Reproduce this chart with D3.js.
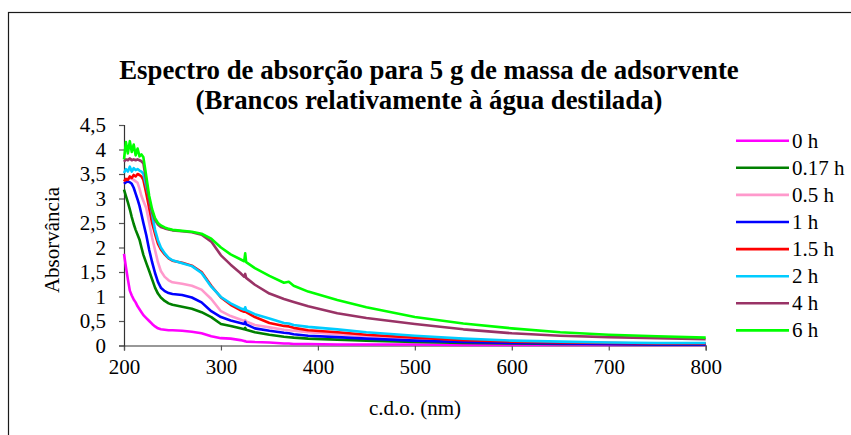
<!DOCTYPE html>
<html>
<head>
<meta charset="utf-8">
<script src="https://cdn.jsdelivr.net/npm/d3@7"></script>
<style>
  body { margin: 0; background: #fff; }
</style>
</head>
<body>
<svg id="chart" width="851" height="435"></svg>
<script>
// wavelengths (nm), shared by every series
const wavelengths = [200,202,204,206,208,210,212,214,216,218,220,223,226,229,232,235,238,242,246,250,260,270,280,290,300,310,320,324,325,326,335,350,365,370,375,390,420,450,500,550,600,650,700,750,800];

const abs0h   = [1.87,1.60,1.35,1.12,1.02,0.94,0.88,0.80,0.74,0.68,0.62,0.56,0.50,0.44,0.39,0.35,0.33,0.32,0.31,0.31,0.30,0.28,0.25,0.19,0.15,0.14,0.11,0.09,0.09,0.08,0.07,0.06,0.04,0.04,0.03,0.03,0.02,0.02,0.02,0.01,0.01,0.01,0.01,0.01,0.01];
const abs017h = [3.18,3.05,2.92,2.78,2.62,2.48,2.36,2.26,2.16,2.00,1.85,1.68,1.52,1.35,1.18,1.06,0.98,0.91,0.86,0.83,0.79,0.75,0.68,0.58,0.44,0.40,0.35,0.33,0.36,0.32,0.27,0.22,0.18,0.17,0.16,0.14,0.12,0.10,0.07,0.05,0.04,0.03,0.03,0.02,0.02];
const abs05h  = [3.30,3.35,3.40,3.42,3.40,3.38,3.35,3.32,3.20,3.05,2.95,2.80,2.50,2.20,1.95,1.70,1.52,1.40,1.33,1.29,1.26,1.22,1.14,0.95,0.70,0.60,0.53,0.50,0.52,0.49,0.42,0.37,0.32,0.31,0.30,0.27,0.23,0.19,0.14,0.10,0.08,0.06,0.05,0.04,0.04];
const abs1h   = [3.30,3.33,3.35,3.33,3.30,3.22,3.10,2.98,2.85,2.68,2.50,2.25,1.95,1.70,1.48,1.30,1.18,1.11,1.07,1.05,1.03,0.98,0.88,0.70,0.58,0.51,0.46,0.44,0.48,0.43,0.35,0.30,0.26,0.25,0.23,0.20,0.17,0.14,0.10,0.07,0.05,0.04,0.03,0.02,0.02];
const abs15h  = [3.35,3.40,3.38,3.45,3.42,3.48,3.45,3.50,3.48,3.45,3.38,3.10,2.80,2.50,2.28,2.08,1.96,1.86,1.78,1.73,1.69,1.63,1.50,1.22,0.98,0.83,0.72,0.69,0.72,0.68,0.58,0.46,0.40,0.39,0.36,0.31,0.27,0.22,0.16,0.11,0.08,0.06,0.05,0.04,0.04];
const abs2h   = [3.52,3.60,3.55,3.65,3.55,3.62,3.58,3.60,3.57,3.55,3.50,3.25,3.00,2.68,2.36,2.15,2.00,1.88,1.79,1.74,1.68,1.62,1.48,1.20,0.99,0.86,0.76,0.73,0.78,0.72,0.64,0.55,0.46,0.45,0.42,0.38,0.33,0.27,0.20,0.14,0.10,0.08,0.06,0.05,0.05];
const abs4h   = [3.75,3.80,3.78,3.82,3.78,3.80,3.78,3.80,3.78,3.76,3.72,3.35,2.95,2.72,2.56,2.47,2.42,2.39,2.37,2.35,2.33,2.31,2.26,2.12,1.84,1.65,1.48,1.40,1.46,1.38,1.24,1.06,0.95,0.92,0.89,0.80,0.66,0.56,0.44,0.33,0.25,0.20,0.17,0.15,0.13];
const abs6h   = [3.80,4.15,3.92,4.17,3.95,4.10,3.88,4.02,3.86,3.90,3.84,3.45,3.05,2.78,2.60,2.50,2.45,2.41,2.38,2.36,2.34,2.32,2.28,2.18,2.00,1.86,1.76,1.72,1.88,1.70,1.58,1.42,1.28,1.30,1.22,1.10,0.93,0.78,0.58,0.45,0.35,0.27,0.22,0.19,0.16];

const seriesNames  = ["0 h", "0.17 h", "0.5 h", "1 h", "1.5 h", "2 h", "4 h", "6 h"];
const seriesValues = [abs0h, abs017h, abs05h, abs1h, abs15h, abs2h, abs4h, abs6h];
const seriesColors = ["#FF00FF", "#008000", "#FF99CC", "#0000FF", "#FF0000", "#00CCFF", "#993366", "#00FF00"];

const xTicks = [200, 300, 400, 500, 600, 700, 800];
const yTicks = [0, 0.5, 1, 1.5, 2, 2.5, 3, 3.5, 4, 4.5];

const serif = "'Liberation Serif'";

const svg = d3.select("#chart");

// outer chart border (right/bottom edges fall outside the picture)
svg.append("rect")
  .attr("x", 8.5).attr("y", 12.5)
  .attr("width", 900).attr("height", 500)
  .attr("fill", "none")
  .attr("stroke", "#1a1a1a")
  .attr("stroke-width", 1.2);

const x = d3.scaleLinear().domain([200, 800]).range([124, 705.7]);
const y = d3.scaleLinear().domain([0, 4.5]).range([345.5, 125]);

// title
const title = svg.append("text")
  .attr("text-anchor", "middle")
  .attr("font-family", serif)
  .attr("font-weight", "bold")
  .attr("font-size", 26.8);
title.append("tspan").attr("x", 429).attr("y", 79)
  .text("Espectro de absorção para 5 g de massa de adsorvente");
title.append("tspan").attr("x", 429).attr("y", 109)
  .text("(Brancos relativamente à água destilada)");

// axes
const xAxis = svg.append("g")
  .attr("transform", `translate(0,${y(0)})`)
  .call(d3.axisBottom(x).tickValues(xTicks).tickSize(5).tickPadding(9).tickFormat(d3.format("d")));

const yAxis = svg.append("g")
  .attr("transform", `translate(${x(200)},0)`)
  .call(d3.axisLeft(y).tickValues(yTicks).tickSize(5).tickPadding(13)
    .tickFormat(d => String(d).replace(".", ",")));

[xAxis, yAxis].forEach(g => {
  g.attr("font-family", null).attr("font-size", null);
  g.select(".domain").attr("stroke", "#333").attr("stroke-width", 1.2);
  g.selectAll(".tick line").attr("stroke", "#555").attr("stroke-width", 1.2);
  g.selectAll(".tick text")
    .attr("fill", "#000")
    .attr("font-family", serif)
    .attr("font-weight", "normal")
    .attr("font-size", 21);
});

svg.append("text")
  .attr("x", 415).attr("y", 415)
  .attr("text-anchor", "middle")
  .attr("font-family", serif)
  .attr("font-weight", "normal")
  .attr("font-size", 21)
  .text("c.d.o. (nm)");

svg.append("text")
  .attr("transform", "translate(59,240) rotate(-90)")
  .attr("text-anchor", "middle")
  .attr("font-family", serif)
  .attr("font-weight", "normal")
  .attr("font-size", 21)
  .text("Absorvância");

// spectra
const line = d3.line()
  .x((d, i) => x(wavelengths[i]))
  .y(d => y(d));

svg.append("g")
  .selectAll("path")
  .data(seriesValues)
  .join("path")
  .attr("d", d => line(d))
  .attr("fill", "none")
  .attr("stroke", (d, i) => seriesColors[i])
  .attr("stroke-width", 2.6)
  .attr("stroke-linejoin", "round");

// legend
const legend = svg.append("g")
  .selectAll("g")
  .data(seriesNames)
  .join("g")
  .attr("transform", (d, i) => `translate(736,${140.7 + i * 27.1})`);

legend.append("line")
  .attr("x1", 0).attr("x2", 53)
  .attr("stroke", (d, i) => seriesColors[i])
  .attr("stroke-width", 2.6);

legend.append("text")
  .attr("x", 56).attr("y", 7)
  .attr("font-family", serif)
  .attr("font-weight", "normal")
  .attr("font-size", 21)
  .text(d => d);
</script>
</body>
</html>
